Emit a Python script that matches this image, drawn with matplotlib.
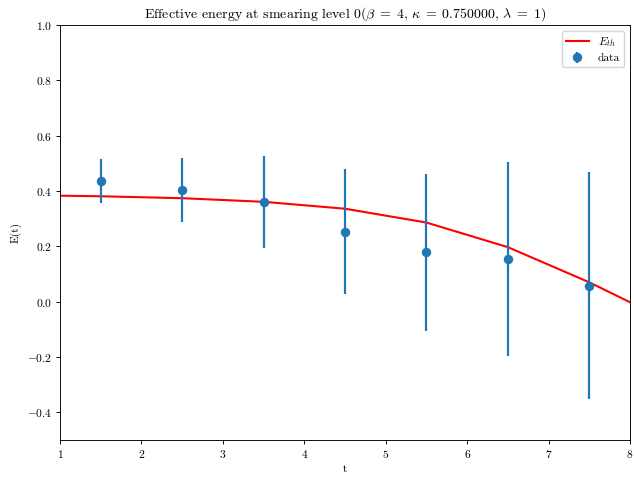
import numpy as np
import matplotlib
matplotlib.use('Agg')
import matplotlib.pyplot as plt

plt.rcParams['font.family'] = 'serif'
plt.rcParams['font.serif'] = ['cmr10']
plt.rcParams['mathtext.fontset'] = 'cm'
plt.rcParams['axes.formatter.use_mathtext'] = True
plt.rcParams['font.size'] = 8.3
plt.rcParams['axes.linewidth'] = 0.66
plt.rcParams['xtick.major.size'] = 2.9
plt.rcParams['ytick.major.size'] = 2.9
plt.rcParams['xtick.major.width'] = 0.66
plt.rcParams['ytick.major.width'] = 0.66
plt.rcParams['xtick.major.pad'] = 2.9
plt.rcParams['ytick.major.pad'] = 2.9

# data
t_data = [1.5, 2.5, 3.5, 4.5, 5.5, 6.5, 7.5]
E_data = [0.437, 0.404, 0.361, 0.253, 0.179, 0.155, 0.058]
E_err = [0.080, 0.117, 0.166, 0.227, 0.284, 0.350, 0.410]

t_th = [1.0, 1.5, 2.5, 3.5, 4.5, 5.5, 6.5, 7.5, 8.0]
E_th = [0.383, 0.381, 0.374, 0.361, 0.336, 0.286, 0.197, 0.070, -0.002]

fig, ax = plt.subplots(figsize=(6.34, 4.79), dpi=100)

ax.plot(t_th, E_th, color='red', lw=1.5, label=r'$E_{th}$')
ax.errorbar(t_data, E_data, yerr=E_err, fmt='o', color='#1f77b4',
            ms=5.8, elinewidth=1.6, capsize=0, label='data')

ax.set_xlim(1, 8)
ax.set_ylim(-0.5, 1.0)
ax.set_xlabel('t', labelpad=3.3)
ax.set_ylabel('E(t)', labelpad=3.3)
ax.set_title(r'Effective energy at smearing level 0$(\beta\;=\;4,\,\kappa\;=\;0.750000,\,\lambda\;=\;1)$',
             fontsize=10, pad=5)
ax.legend(loc='upper right', labelspacing=0.4, borderpad=0.35)

fig.subplots_adjust(left=0.0946, right=0.9937, top=0.9478, bottom=0.0814)
fig.savefig('out.png', dpi=100)
